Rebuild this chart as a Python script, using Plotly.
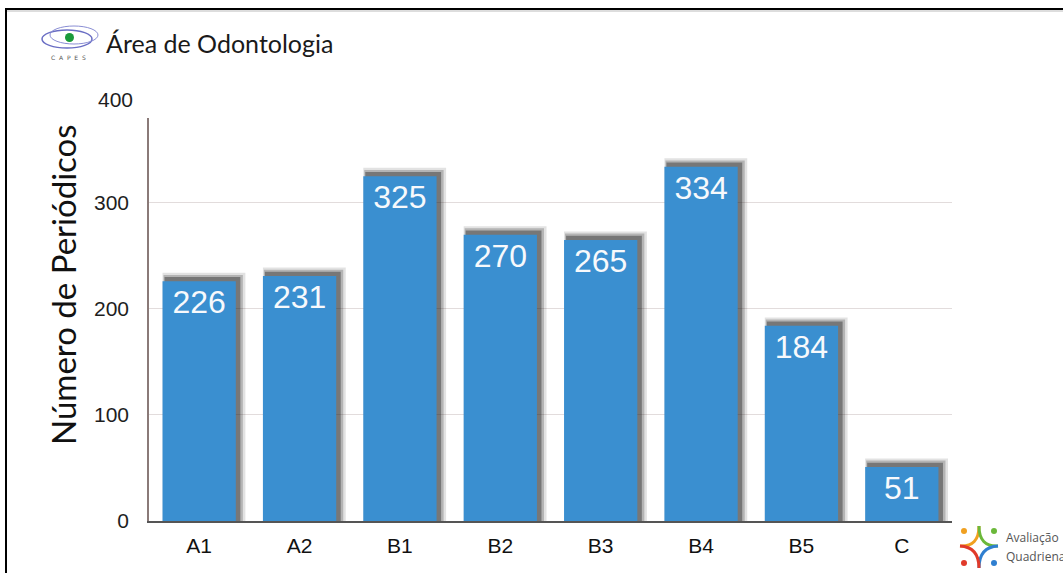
import plotly.graph_objects as go

categories = ["A1", "A2", "B1", "B2", "B3", "B4", "B5", "C"]
values = [226, 231, 325, 270, 265, 334, 184, 51]
y_tick_vals = [0, 100, 200, 300]
top_tick_label = 400

W, H = 1063, 573
L, R, T, B = 149, 111, 118, 52
PW = W - L - R
PH = H - T - B


def px(x):
    return (x - L) / PW


def py(y):
    return (H - B - y) / PH


BAR_W = 0.73
fig = go.Figure()

# soft shadow layers (behind bars)
for extra_r, extra_l, dy, op in [(0.095, 0.0, 8, 0.12), (0.07, -0.01, 6, 0.22), (0.045, -0.02, 4, 0.38)]:
    fig.add_trace(go.Bar(
        x=categories, y=[v + dy for v in values],
        width=BAR_W + extra_r + extra_l, offset=-BAR_W / 2 - extra_l,
        marker=dict(color=f"rgba(20,20,20,{op})", line=dict(width=0)),
        hoverinfo="skip", showlegend=False,
    ))

fig.add_trace(go.Bar(
    x=categories, y=values, width=BAR_W, offset=-BAR_W / 2,
    marker=dict(color="#3a8fd0", line=dict(width=0)),
    text=[str(v) for v in values], textposition="inside", insidetextanchor="end",
    textangle=0,
    textfont=dict(family="Liberation Sans, Arial, sans-serif", size=32, color="#f7f9fc"),
    showlegend=False,
))

shapes = []
# frame
shapes.append(dict(type="line", xref="paper", yref="paper", x0=px(6), x1=px(1070), y0=py(9), y1=py(9),
                   line=dict(color="black", width=2)))
shapes.append(dict(type="line", xref="paper", yref="paper", x0=px(6), x1=px(1070), y0=py(11), y1=py(11),
                   line=dict(color="#bbbbbb", width=1)))
shapes.append(dict(type="line", xref="paper", yref="paper", x0=px(6), x1=px(6), y0=py(8), y1=py(580),
                   line=dict(color="black", width=2)))

# CAPES logo
shapes.append(dict(type="circle", xref="paper", yref="paper", x0=px(42), x1=px(92), y0=py(30), y1=py(48),
                   line=dict(color="#6a6ec4", width=1.5)))
shapes.append(dict(type="circle", xref="paper", yref="paper", x0=px(50), x1=px(98), y0=py(26), y1=py(44),
                   line=dict(color="#8a8ed4", width=1)))
shapes.append(dict(type="circle", xref="paper", yref="paper", x0=px(65), x1=px(74), y0=py(33), y1=py(42),
                   fillcolor="#1a9a3a", line=dict(width=0)))


# Avaliação Quadrienal logo (approximate star)
def P(x, y):
    return f"{px(x)},{py(y)}"


cx, cy = 979, 547
arms = [
    ("#f0a020", (cx, 526), (960, 546)),
    ("#6bb83a", (cx, 526), (998, 546)),
    ("#2f7fd0", (998, 546), (cx, 568)),
    ("#e03a2a", (960, 546), (cx, 568)),
]
for col, a, b in arms:
    path = f"M {P(*a)} Q {P(cx, cy)} {P(*b)}"
    shapes.append(dict(type="path", xref="paper", yref="paper", path=path,
                       line=dict(color=col, width=3)))
for col, (dx, dy) in [("#f0a020", (964, 531)), ("#6bb83a", (994, 531)),
                      ("#e03a2a", (964, 563)), ("#2f7fd0", (994, 563))]:
    shapes.append(dict(type="circle", xref="paper", yref="paper",
                       x0=px(dx - 3), x1=px(dx + 3), y0=py(dy - 3), y1=py(dy + 3),
                       fillcolor=col, line=dict(width=0)))

annotations = [
    dict(text="Área de Odontologia", xref="paper", yref="paper", x=px(104), y=py(43),
         xanchor="left", yanchor="middle", showarrow=False,
         font=dict(family="Lato, sans-serif", size=25, color="#1a1a1a")),
    dict(text="C  A  P  E  S", xref="paper", yref="paper", x=px(68), y=py(57),
         xanchor="center", yanchor="middle", showarrow=False,
         font=dict(family="DejaVu Sans, sans-serif", size=6, color="#555")),
    dict(text=str(top_tick_label), xref="paper", yref="paper", x=0, y=py(99), xshift=-14,
         xanchor="right", yanchor="middle", showarrow=False,
         font=dict(family="Liberation Sans, Arial, sans-serif", size=21, color="#1e1e1e")),
    dict(text="Número de Periódicos", xref="paper", yref="paper", x=px(63), y=py(285),
         xanchor="center", yanchor="middle", textangle=-90, showarrow=False,
         font=dict(family="Lato, sans-serif", size=33, color="#111")),
    dict(text="Avaliação", xref="paper", yref="paper", x=px(1004), y=py(537),
         xanchor="left", yanchor="middle", showarrow=False,
         font=dict(family="Open Sans, sans-serif", size=12, color="#555")),
    dict(text="Quadrienal", xref="paper", yref="paper", x=px(1004), y=py(556),
         xanchor="left", yanchor="middle", showarrow=False,
         font=dict(family="Open Sans, sans-serif", size=12, color="#555")),
]

fig.update_layout(
    width=W, height=H,
    margin=dict(l=L, r=R, t=T, b=B, autoexpand=False),
    paper_bgcolor="white", plot_bgcolor="white",
    barmode="overlay",
    shapes=shapes, annotations=annotations,
    xaxis=dict(showgrid=False, showline=True, linecolor="#555", linewidth=1.5,
               ticks="", ticklabelstandoff=5,
               tickfont=dict(family="Liberation Sans, Arial, sans-serif", size=21, color="#111"),
               range=[-0.5, 7.5]),
    yaxis=dict(range=[0, 380], tickvals=y_tick_vals, showgrid=True, gridcolor="#e2dcdc", gridwidth=1,
               zeroline=False, showline=True, linecolor="#8a7a78", linewidth=1.5,
               ticks="", ticklabelstandoff=14,
               tickfont=dict(family="Liberation Sans, Arial, sans-serif", size=21, color="#1e1e1e")),
    hovermode=False,
)

fig.write_html("out.html", config={"displayModeBar": False},
               post_script="document.body.style.margin='0';document.body.style.overflow='hidden';")
